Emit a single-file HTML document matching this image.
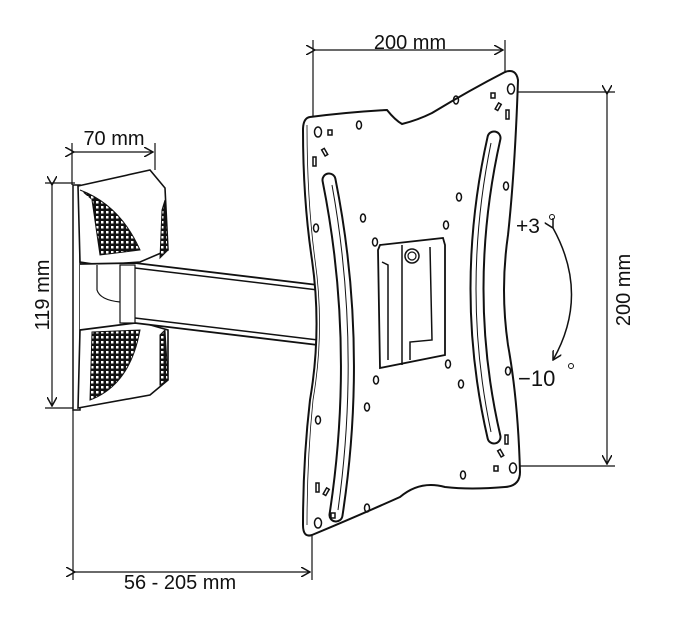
<!DOCTYPE html>
<html><head><meta charset="utf-8"><style>
html,body{margin:0;padding:0;background:#fff}
svg{display:block}
text{font-family:"Liberation Sans",sans-serif;fill:#111}
</style></head><body>
<svg width="675" height="635" viewBox="0 0 675 635" xmlns="http://www.w3.org/2000/svg">
<defs>
<pattern id="dots" width="5" height="5" patternUnits="userSpaceOnUse">
<rect width="5" height="5" fill="#111"/><rect x="1" y="1" width="2.5" height="2.5" fill="#fff"/>
</pattern>
<marker id="ar" markerWidth="10" markerHeight="10" refX="9" refY="5" orient="auto" markerUnits="userSpaceOnUse">
<path d="M0,0 L9,5 L0,10" fill="none" stroke="#111" stroke-width="1.5"/>
</marker>
</defs>
<g stroke="#111" fill="none" stroke-width="1.2">
<line x1="313" y1="40" x2="313" y2="118"/>
<line x1="505" y1="40" x2="505" y2="72"/>
<line x1="315" y1="50" x2="503" y2="50" marker-end="url(#ar)" marker-start="url(#ar)"/>
<line x1="513" y1="92" x2="615" y2="92"/>
<line x1="518" y1="466" x2="615" y2="466"/>
<line x1="607" y1="94" x2="607" y2="464" marker-end="url(#ar)" marker-start="url(#ar)"/>
<line x1="72" y1="143" x2="72" y2="185"/>
<line x1="155" y1="143" x2="155" y2="170"/>
<line x1="74" y1="152" x2="153" y2="152" marker-end="url(#ar)" marker-start="url(#ar)"/>
<line x1="45" y1="183" x2="75" y2="183"/>
<line x1="45" y1="408" x2="75" y2="408"/>
<line x1="52" y1="185" x2="52" y2="406" marker-end="url(#ar)" marker-start="url(#ar)"/>
<line x1="73" y1="410" x2="73" y2="580"/>
<line x1="312" y1="535" x2="312" y2="580"/>
<line x1="75" y1="572" x2="310" y2="572" marker-end="url(#ar)" marker-start="url(#ar)"/>
<path d="M553,228 Q590,295 553,360" stroke-width="1.5" marker-end="url(#ar)" marker-start="url(#ar)"/>

<path d="M73,185 L80,185 L80,410 L73,410 Z" stroke-width="1.5" fill="#fff"/>
<path d="M78,186 L150,170 L165,188 L168,250 L140,262 L100,265 L80,262 Z" stroke-width="1.6" fill="#fff"/>
<path d="M80,190 Q120,205 140,250 L100,255 L92,200" fill="url(#dots)" stroke-width="1"/>
<path d="M165,200 L168,250 L160,258 L162,210 Z" fill="url(#dots)" stroke-width="1"/>
<path d="M78,408 L150,395 L168,380 L168,330 L140,322 L100,325 L80,330 Z" stroke-width="1.6" fill="#fff"/>
<path d="M92,332 L140,330 Q130,385 90,400 Z" fill="url(#dots)" stroke-width="1"/>
<path d="M165,330 L168,380 L160,385 L160,335 Z" fill="url(#dots)" stroke-width="1"/>
<path d="M80,264 L135,263 L318,285 L318,345 L135,323 L80,330" stroke-width="1.8" fill="#fff"/>
<line x1="135" y1="268" x2="318" y2="290" stroke-width="1.5"/>
<line x1="135" y1="318" x2="318" y2="340" stroke-width="1.5"/>
<rect x="120" y="265" width="15" height="58" fill="#fff"/>
<path d="M97,265 L97,290 Q100,300 120,302"/>
<path d="M310,117 Q350,112 387,110 Q395,120 402,124 Q418,120 432,113 Q470,90 505,72 Q516,68 518,80 Q515,170 508,235 Q500,290 508,345 Q518,400 520,472 Q520,486 505,487 Q470,490 445,487 Q420,480 400,497 Q360,515 312,535 Q303,538 303,525 Q303,460 310,400 Q322,330 312,260 Q303,200 303,130 Q303,118 310,117 Z" stroke-width="2" fill="#fff"/>
<path d="M307,125 Q307,200 315,260 Q325,330 313,400 Q307,460 307,525" stroke-width="0.8"/>
<!-- slots -->
<path d="M329,180 Q362,345 336,515" stroke-width="15" stroke-linecap="round"/>
<path d="M329,180 Q362,345 336,515" stroke-width="11" stroke="#fff" stroke-linecap="round"/>
<path d="M332,185 Q361,345 338,510" stroke-width="1"/>
<path d="M494,138 Q460,290 494,437" stroke-width="15" stroke-linecap="round"/>
<path d="M494,138 Q460,290 494,437" stroke-width="11" stroke="#fff" stroke-linecap="round"/>
<path d="M491,143 Q461,290 491,432" stroke-width="1"/>
<path d="M378,250 L380,245 L443,238 L445,245 L445,355 L380,368 Z" stroke-width="1.8" fill="#fff"/>
<line x1="402" y1="245" x2="402" y2="365" stroke-width="1.5"/>
<path d="M382,262 L388,265 L388,360" stroke-width="1.5"/>
<path d="M430,247 L432,340 L410,342 L410,360" stroke-width="1.5"/>
<circle cx="412" cy="256" r="7" stroke-width="1.5"/><circle cx="412" cy="256" r="4"/>
<g stroke-width="1.5">
<ellipse cx="318" cy="132" rx="3.5" ry="5"/><ellipse cx="511" cy="89" rx="3.5" ry="5"/>
<ellipse cx="318" cy="523" rx="3.5" ry="5"/><ellipse cx="513" cy="468" rx="3.5" ry="5"/>
<ellipse cx="359" cy="125" rx="2.5" ry="4"/><ellipse cx="456" cy="100" rx="2.5" ry="4"/>
<ellipse cx="506" cy="186" rx="2.5" ry="4"/><ellipse cx="459" cy="197" rx="2.5" ry="4"/>
<ellipse cx="363" cy="218" rx="2.5" ry="4"/><ellipse cx="446" cy="225" rx="2.5" ry="4"/>
<ellipse cx="316" cy="228" rx="2.5" ry="4"/><ellipse cx="375" cy="242" rx="2.5" ry="4"/>
<ellipse cx="448" cy="364" rx="2.5" ry="4"/><ellipse cx="376" cy="380" rx="2.5" ry="4"/>
<ellipse cx="461" cy="384" rx="2.5" ry="4"/><ellipse cx="508" cy="371" rx="2.5" ry="4"/>
<ellipse cx="367" cy="407" rx="2.5" ry="4"/><ellipse cx="318" cy="420" rx="2.5" ry="4"/>
<ellipse cx="463" cy="475" rx="2.5" ry="4"/><ellipse cx="367" cy="508" rx="2.5" ry="4"/>
<rect x="328" y="130" width="4" height="5"/><rect x="313" y="157" width="3" height="9"/>
<rect x="323" y="149" width="3" height="7" transform="rotate(-30 324 152)"/>
<rect x="491" y="93" width="4" height="5"/><rect x="506" y="110" width="3" height="9"/>
<rect x="497" y="103" width="3" height="7" transform="rotate(30 498 106)"/>
<rect x="505" y="435" width="3" height="9"/><rect x="499" y="450" width="3" height="7" transform="rotate(-30 500 453)"/>
<rect x="494" y="466" width="4" height="5"/>
<rect x="316" y="483" width="3" height="9"/><rect x="325" y="488" width="3" height="7" transform="rotate(30 326 491)"/>
<rect x="331" y="513" width="4" height="5"/>
</g>
</g>
<text x="410" y="49" font-size="20" text-anchor="middle">200 mm</text>
<text x="114" y="145" font-size="20" text-anchor="middle">70 mm</text>
<text x="180" y="589" font-size="20" text-anchor="middle">56 - 205 mm</text>
<text transform="translate(49,295) rotate(-90)" font-size="20" text-anchor="middle">119 mm</text>
<text transform="translate(630,290) rotate(-90)" font-size="20" text-anchor="middle">200 mm</text>
<text x="516" y="233" font-size="21">+3</text>
<text x="518" y="386" font-size="22">−10</text>
<circle cx="552" cy="217" r="2.5" fill="none" stroke="#111"/>
<circle cx="571" cy="366" r="2.5" fill="none" stroke="#111"/>
</svg>
</body></html>
